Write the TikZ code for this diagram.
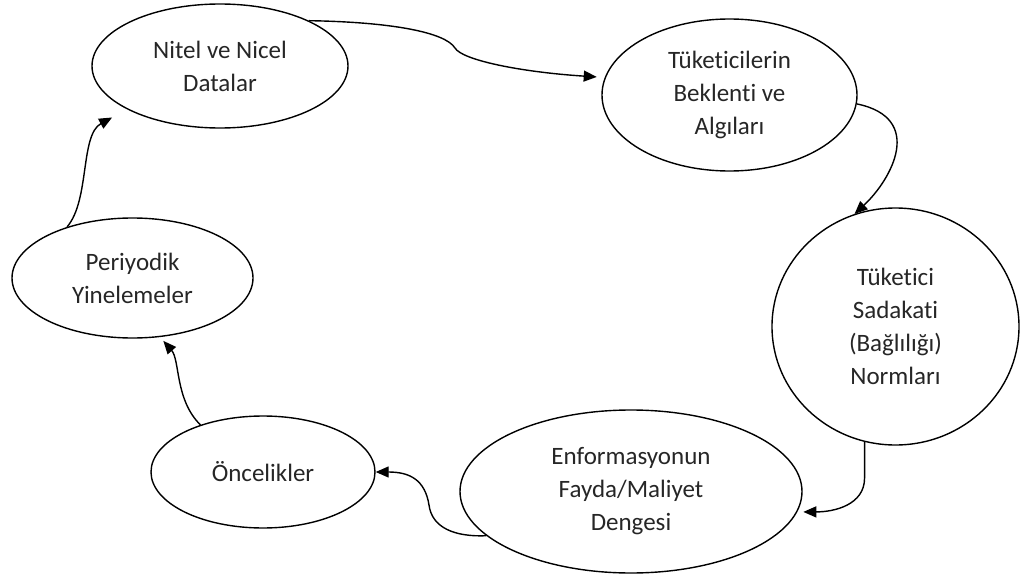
\documentclass[tikz,border=0pt]{standalone}
\usepackage{fontspec}
\setmainfont{Carlito}[Ligatures=NoCommon]
\usetikzlibrary{shapes.geometric,arrows.meta}
\begin{document}
\begin{tikzpicture}[x=1pt,y=-1pt,
  bubble/.style={draw, ellipse, line width=1.4pt, inner sep=0pt, align=center,
    text=black!85, font=\fontsize{25}{33}\selectfont},
  link/.style={line width=1.4pt, -{Triangle[length=13pt,width=11pt]}}]
\useasboundingbox (0,0) rectangle (1021,578);

% stages of the cycle
\node[bubble, minimum width=256pt, minimum height=124pt] (nitel) at (220,66) {Nitel ve Nicel\\Datalar};
\node[bubble, minimum width=255pt, minimum height=152pt] (tuk) at (729.5,95) {Tüketicilerin\\Beklenti ve\\Algıları};
\node[bubble, minimum width=247pt, minimum height=237pt] (sad) at (895.5,326.5) {Tüketici\\Sadakati\\(Bağlılığı)\\Normları};
\node[bubble, minimum width=342pt, minimum height=163pt] (enf) at (631,491.5) {Enformasyonun\\Fayda/Maliyet\\Dengesi};
\node[bubble, minimum width=224pt, minimum height=112pt] (onc) at (263,472) {Öncelikler};
\node[bubble, minimum width=241pt, minimum height=120pt] (per) at (132.5,278) {Periyodik\\Yinelemeler};

% curved arrows running clockwise round the cycle
\draw[link, shorten >=8pt] (nitel.27) .. controls (390,22) and (445,32) .. (455,48)
  .. controls (462,60) and (520,72) .. (tuk.172);
\draw[link] (tuk.-4) .. controls (925,118) and (892,179) .. (sad.110);
\draw[link, shorten >=6pt] (sad.255) -- ++(0,36) .. controls +(0,27) and +(37,0) .. (enf.-7);
\draw[link] (enf.197) .. controls (455,537) and (432,528) .. (429,505)
  .. controls (425,480) and (410,472) .. (onc.east);
\draw[link, shorten >=5pt] (onc.143) .. controls (175,400) and (180,360) .. (per.-65);
\draw[link, shorten >=17pt] (per.142) .. controls (90,200) and (80,135) .. (nitel.205);
\end{tikzpicture}
\end{document}
